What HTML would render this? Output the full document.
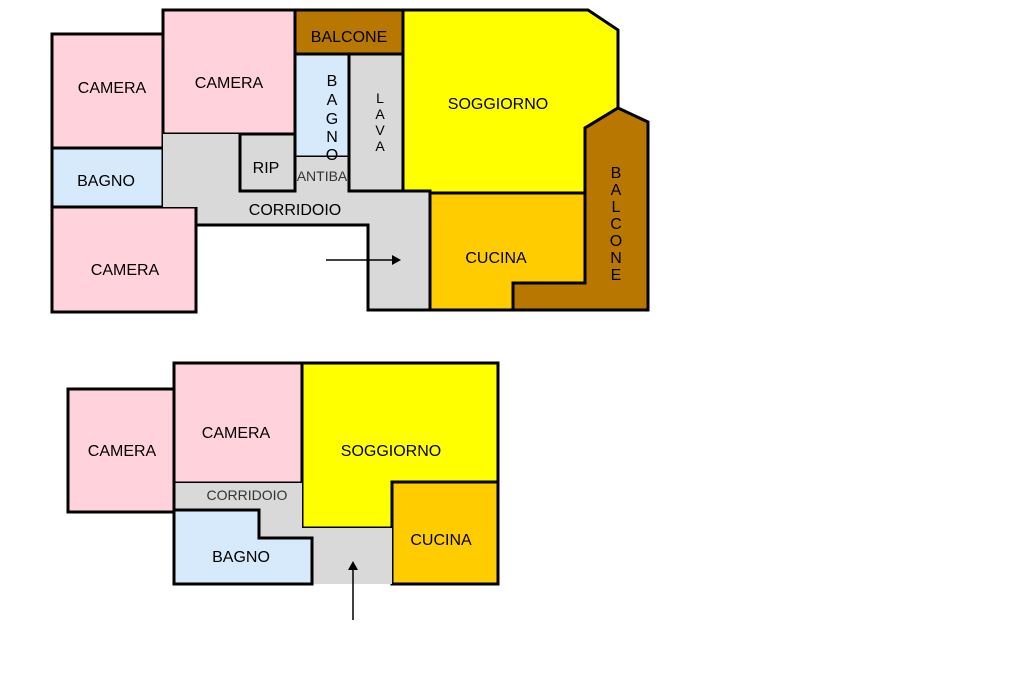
<!DOCTYPE html>
<html><head><meta charset="utf-8"><style>
html,body{margin:0;padding:0;background:#fff}
svg{display:block}
text{font-family:"Liberation Sans",Arial,sans-serif;font-size:16px;fill:#000}
</style></head><body>
<svg width="1024" height="682" viewBox="0 0 1024 682" xmlns="http://www.w3.org/2000/svg">
<g stroke="#000" stroke-width="3" stroke-linejoin="miter">
<rect x="52" y="34" width="111" height="114" fill="#ffd2dc"/>
<rect x="52" y="148" width="111" height="59" fill="#d6eafb"/>
<rect x="52" y="207" width="144" height="105" fill="#ffd2dc"/>
<rect x="163" y="10" width="132" height="124" fill="#ffd2dc"/>
<polygon points="163,134 240,134 240,191 430,191 430,310 368,310 368,225 196,225 196,207 163,207" fill="#d9d9d9" stroke="none"/>
<polyline points="196,207 196,225 368,225 368,310 430,310" fill="none"/>
<rect x="240" y="134" width="55" height="57" fill="#d9d9d9"/>
<rect x="295" y="54" width="54" height="103" fill="#d6eafb"/>
<rect x="295" y="157" width="54" height="34" fill="#d9d9d9" stroke="none"/>
<line x1="295" y1="157" x2="295" y2="191"/><line x1="349" y1="157" x2="349" y2="191"/>
<rect x="349" y="54" width="54" height="137" fill="#d9d9d9"/>
<rect x="295" y="10" width="108" height="44" fill="#b87800"/>
<polygon points="403,10 588,10 618,30 618,108 585,128 585,193 430,193 430,191 403,191" fill="#ffff00"/>
<polygon points="430,193 585,193 585,283 513,283 513,310 430,310" fill="#ffcc00"/>
<polygon points="585,128 618,108 648,122 648,310 513,310 513,283 585,283" fill="#b87800"/>
<rect x="68" y="389" width="106" height="123" fill="#ffd2dc"/>
<rect x="174" y="363" width="128" height="120" fill="#ffd2dc"/>
<polygon points="302,363 498,363 498,482 392,482 392,528 302,528" fill="#ffff00"/>
<rect x="392" y="482" width="106" height="102" fill="#ffcc00"/>
<polygon points="174,483 302,483 302,528 392,528 392,584 312,584 312,538 259,538 259,510 174,510" fill="#d9d9d9" stroke="none"/>
<polygon points="174,510 259,510 259,538 312,538 312,584 174,584" fill="#d6eafb"/>
<line x1="174" y1="483" x2="174" y2="510"/>
</g>
<g stroke="#000" stroke-width="1.5">
<line x1="326" y1="260" x2="394" y2="260"/>
<line x1="353" y1="620" x2="353" y2="568"/>
</g>
<polygon points="401,260 392,255 392,265" fill="#000"/>
<polygon points="353,561 348,570 358,570" fill="#000"/>
<text x="112" y="93" text-anchor="middle">CAMERA</text>
<text x="229" y="88" text-anchor="middle">CAMERA</text>
<text x="349" y="42" text-anchor="middle">BALCONE</text>
<text x="106" y="186" text-anchor="middle">BAGNO</text>
<text x="125" y="275" text-anchor="middle">CAMERA</text>
<text x="266" y="173" text-anchor="middle">RIP</text>
<text x="322" y="181" text-anchor="middle" style="font-size:14px;fill:#333">ANTIBA</text>
<text x="295" y="215" text-anchor="middle">CORRIDOIO</text>
<text x="498" y="109" text-anchor="middle">SOGGIORNO</text>
<text x="496" y="263" text-anchor="middle">CUCINA</text>
<g text-anchor="middle">
<text x="332" y="86">B</text><text x="332" y="105">A</text><text x="332" y="124">G</text><text x="332" y="142">N</text><text x="332" y="160">O</text>
<text x="380" y="103" style="font-size:14px">L</text><text x="380" y="119" style="font-size:14px">A</text><text x="380" y="135" style="font-size:14px">V</text><text x="380" y="151" style="font-size:14px">A</text>
<text x="616" y="178">B</text><text x="616" y="195">A</text><text x="616" y="212">L</text><text x="616" y="229">C</text><text x="616" y="246">O</text><text x="616" y="263">N</text><text x="616" y="280">E</text>
</g>
<text x="122" y="456" text-anchor="middle">CAMERA</text>
<text x="236" y="438" text-anchor="middle">CAMERA</text>
<text x="391" y="456" text-anchor="middle">SOGGIORNO</text>
<text x="247" y="500" text-anchor="middle" style="font-size:14px;fill:#333">CORRIDOIO</text>
<text x="241" y="562" text-anchor="middle">BAGNO</text>
<text x="441" y="545" text-anchor="middle">CUCINA</text>
</svg>
</body></html>
